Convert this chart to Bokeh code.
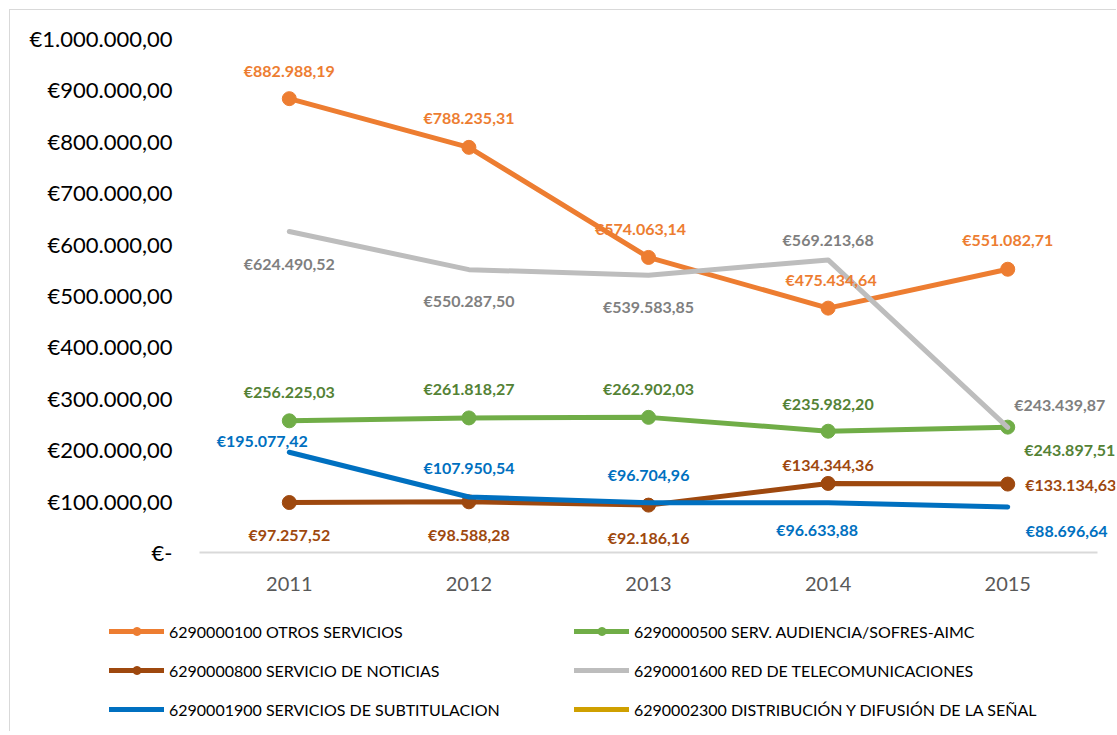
from bokeh.plotting import figure
from bokeh.layouts import column
from bokeh.models import (ColumnDataSource, LabelSet, Legend, LegendItem,
                          FixedTicker, Range1d)
from bokeh.core.properties import value
from bokeh.embed import file_html
from bokeh.resources import INLINE

# ---------------- data ----------------
years = ["2011", "2012", "2013", "2014", "2015"]
otros = [882988.19, 788235.31, 574063.14, 475434.64, 551082.71]
audiencia = [256225.03, 261818.27, 262902.03, 235982.20, 243897.51]
noticias = [97257.52, 98588.28, 92186.16, 134344.36, 133134.63]
telecom = [624490.52, 550287.50, 539583.85, 569213.68, 243439.87]
subtitulacion = [195077.42, 107950.54, 96704.96, 96633.88, 88696.64]
distribucion = [None, None, None, None, None]
y_ticks = [0, 100000, 200000, 300000, 400000, 500000, 600000, 700000, 800000, 900000, 1000000]

names = ["6290000100 OTROS SERVICIOS",
         "6290000500 SERV. AUDIENCIA/SOFRES-AIMC",
         "6290000800 SERVICIO DE NOTICIAS",
         "6290001600 RED DE TELECOMUNICACIONES",
         "6290001900 SERVICIOS DE SUBTITULACION",
         "6290002300 DISTRIBUCIÓN Y DIFUSIÓN DE LA SEÑAL"]


def eur(v):
    s = f"{v:,.2f}"
    s = s.replace(",", "X").replace(".", ",").replace("X", ".")
    return "€" + s


def tick_label(v):
    return "€-" if v == 0 else eur(v)


FONT = "Lato"

# category positions (centre of each category slot)
xpos = [i + 0.5 for i in range(len(years))]

# styles: (line color, label color, markers, label offsets (dx, dy up))
series = [
    (otros, "#ED7D31", "#ED7D31", True,
     [(0, 28), (0, 30), (-8, 29), (3, 29), (0, 30)]),
    (audiencia, "#70AD47", "#548235", True,
     [(0, 29), (0, 29), (0, 29), (0, 28), (62, -22)]),
    (noticias, "#9E480E", "#9E480E", True,
     [(0, -32), (0, -33), (0, -32), (0, 19), (63, 0)]),
    (telecom, "#BDBDBD", "#7F7F7F", False,
     [(0, -32), (0, -31), (0, -31), (0, 20), (52, 23)]),
    (subtitulacion, "#0070C0", "#0070C0", False,
     [(-27, 12), (0, 30), (0, 28), (-11, -27), (59, -24)]),
    (distribucion, "#CFA000", "#CFA000", False, None),
]

W = 1106
p = figure(width=W, height=597, x_range=Range1d(0, 5.1),
           y_range=Range1d(0, 1000000), output_backend="svg",
           toolbar_location=None, min_border_left=189, min_border_right=1,
           min_border_top=28, min_border_bottom=55)
p.frame_align = False
p.outline_line_color = None
p.xgrid.grid_line_color = None
p.ygrid.grid_line_color = None

p.yaxis.ticker = FixedTicker(ticks=y_ticks)
p.yaxis.major_label_overrides = {t: tick_label(t) for t in y_ticks}
p.yaxis.axis_line_color = None
p.yaxis.major_tick_line_color = None
p.yaxis.minor_tick_line_color = None
p.yaxis.major_label_text_font = FONT
p.yaxis.major_label_text_font_size = "22px"
p.yaxis.major_label_text_color = "#000000"
p.yaxis.major_label_standoff = 21

p.xaxis.ticker = FixedTicker(ticks=xpos)
p.xaxis.major_label_overrides = {x: y for x, y in zip(xpos, years)}
p.xaxis.bounds = (0, len(years))
p.xaxis.axis_line_color = "#D9D9D9"
p.xaxis.axis_line_width = 2
p.xaxis.major_tick_line_color = None
p.xaxis.minor_tick_line_color = None
p.xaxis.major_label_text_font = FONT
p.xaxis.major_label_text_font_size = "20px"
p.xaxis.major_label_text_color = "#595959"
p.xaxis.major_label_standoff = 18

# legend figure (below the chart)
lf = figure(width=W, height=124, x_range=Range1d(0, 5.1), y_range=Range1d(-2, -1),
            output_backend="svg", toolbar_location=None, min_border=0)
lf.frame_align = False
lf.axis.visible = False
lf.grid.visible = False
lf.outline_line_color = None

items = []
for i, (vals, lc, tc, markers, offs) in enumerate(series):
    yv = [float("nan") if v is None else v for v in vals]
    src = ColumnDataSource(dict(x=xpos, y=yv))
    p.line("x", "y", source=src, line_color=lc, line_width=5,
           line_join="round", line_cap="round")
    if markers:
        p.scatter("x", "y", source=src, size=14, fill_color=lc, line_color=lc)
    # legend proxies (same data, outside the legend panel's visible range)
    rs = [lf.line("x", "y", source=src, line_color=lc, line_width=5,
                  line_cap="round")]
    if markers:
        rs.append(lf.scatter("x", "y", source=src, size=14, fill_color=lc,
                             line_color=lc))
    items.append(LegendItem(label=names[i], renderers=rs))
    if offs is not None:
        lsrc = ColumnDataSource(dict(
            x=xpos, y=vals, t=[eur(v) for v in vals],
            dx=[o[0] for o in offs], dy=[o[1] for o in offs]))
        p.add_layout(LabelSet(x="x", y="y", text="t", source=lsrc,
                              x_offset="dx", y_offset="dy",
                              text_align="center", text_baseline="middle",
                              text_font=value(FONT), text_font_style="bold",
                              text_font_size="16px", text_color=tc))

order = [0, 2, 4, 1, 3, 5]
legend = Legend(items=[items[k] for k in order], orientation="vertical",
                ncols=2, location=(99, 12),
                glyph_width=55, glyph_height=20, label_standoff=5,
                label_width=386, label_height=20, spacing=19, padding=0,
                margin=0, border_line_color=None, background_fill_alpha=0,
                label_text_font=FONT, label_text_font_size="16px",
                label_text_color="#000000")
lf.add_layout(legend, "center")

layout = column(p, lf)
layout.styles = {"margin-left": "9px", "margin-top": "9px",
                 "border-left": "1px solid #D9D9D9",
                 "border-top": "1px solid #D9D9D9"}

open("out.html", "w").write(file_html(layout, INLINE))
